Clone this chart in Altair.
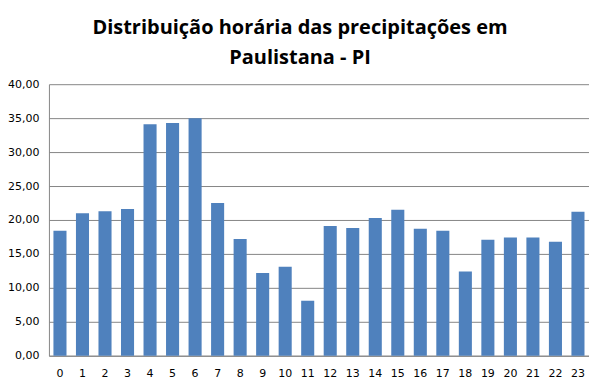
import altair as alt
import pandas as pd

hours = [str(h) for h in range(24)]
values = [18.4, 21.0, 21.3, 21.6, 34.1, 34.3, 35.0, 22.5, 17.2, 12.2, 13.1, 8.1,
          19.1, 18.8, 20.3, 21.5, 18.7, 18.4, 12.4, 17.1, 17.4, 17.4, 16.8, 21.2]
title_lines = ["Distribuição horária das precipitações em", "Paulistana - PI"]

df = pd.DataFrame({"hora": hours, "valor": values})

chart = alt.Chart(df).mark_bar(color="#4F81BD").encode(
    x=alt.X("hora:N", sort=hours, title=None,
            scale=alt.Scale(paddingInner=0.42, paddingOuter=0.2),
            axis=alt.Axis(labelAngle=0, ticks=False, domainColor="#868686",
                          labelFont="DejaVu Sans", labelFontSize=11,
                          labelColor="#000000", labelPadding=12)),
    y=alt.Y("valor:Q", title=None,
            scale=alt.Scale(domain=[0, 40], nice=False),
            axis=alt.Axis(values=[0, 5, 10, 15, 20, 25, 30, 35, 40],
                          labelExpr="replace(format(datum.value, '.2f'), '.', ',')",
                          ticks=False,
                          domainColor="#868686", gridColor="#868686",
                          labelFont="DejaVu Sans", labelFontSize=11,
                          labelColor="#000000", labelPadding=10)),
).properties(
    width=541, height=272,
    autosize=alt.AutoSizeParams(type="none"),
    padding={"left": 41, "top": 76, "right": 0, "bottom": 28},
    title=alt.TitleParams(title_lines, font="Open Sans", fontSize=20,
                          fontWeight="bold", color="#000000", anchor="middle",
                          dx=-19, offset=10, lineHeight=30),
).configure_view(stroke=None)

chart.save("out.html", embed_options={"renderer": "svg", "actions": False})
